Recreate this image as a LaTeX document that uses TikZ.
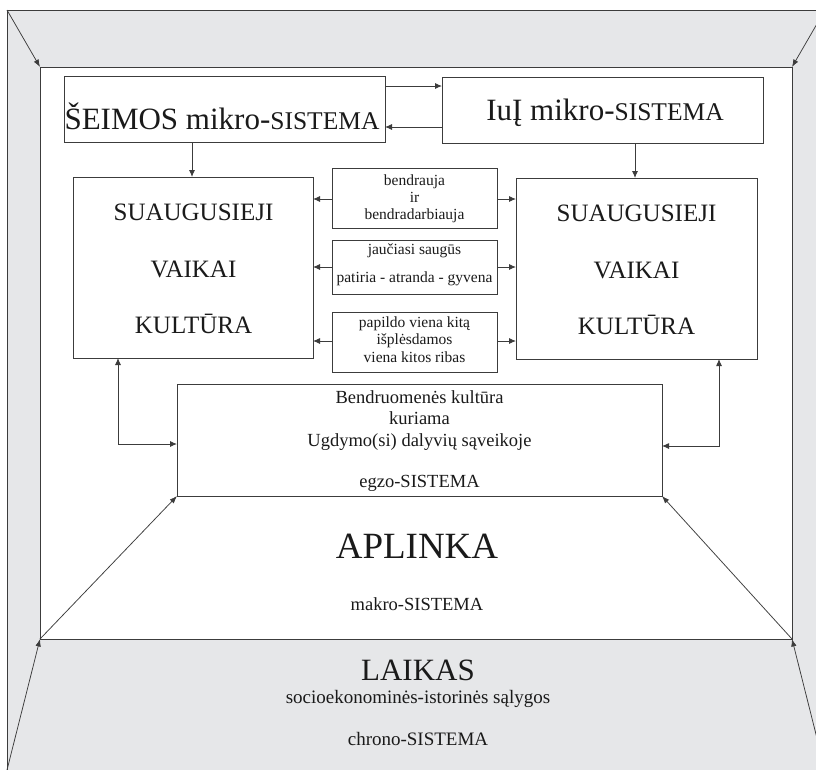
\documentclass[tikz,border=0pt]{standalone}
\usepackage{fontspec}
\setmainfont{Liberation Serif}
\usetikzlibrary{arrows.meta}
\definecolor{bandgray}{HTML}{E6E7E9}
\definecolor{linegray}{HTML}{3C3C3C}
\definecolor{inkcol}{HTML}{1A1A1A}
\begin{document}
\begin{tikzpicture}[x=1pt,y=-1pt,
  box/.style={draw=linegray, line width=1pt, fill=white, inner sep=0pt, outer sep=0pt, anchor=north west},
  arr/.style={draw=linegray, line width=0.9pt, -{Latex[length=7pt,width=6pt]}},
  darr/.style={draw=linegray, line width=0.9pt, {Latex[length=7pt,width=6pt]}-{Latex[length=7pt,width=6pt]}},
  thin/.style={draw=linegray, line width=0.75pt, -{Latex[length=7.5pt,width=5.5pt]}},
  txt/.style={inner sep=0pt, anchor=base, text=inkcol},
  big/.style={txt, font=\fontsize{31}{31}\selectfont},
  mid/.style={txt, font=\fontsize{25}{25}\selectfont},
  small/.style={txt, font=\fontsize{15.5}{15.5}\selectfont},
  med/.style={txt, font=\fontsize{18.5}{18.5}\selectfont}]
\useasboundingbox (0,0) rectangle (816,769);
\begin{scope}
  \clip (0,0) rectangle (816,769);
  \fill[bandgray] (7,10) rectangle (825,790);
  \draw[linegray, line width=1pt] (7,790) -- (7,10) -- (825,10);
  \node[box, minimum width=752pt, minimum height=572pt] (inner) at (40,67) {};
  \coordinate (otl) at (7,10);
  \coordinate (otr) at (825,10);
  \coordinate (obl) at (7,770);
  \coordinate (obr) at (825,770);
  \draw[thin] (otl) -- (inner.north west);
  \draw[thin] (otr) -- (inner.north east);
  \draw[thin] (obl) -- (inner.south west);
  \draw[thin] (obr) -- (inner.south east);
\end{scope}

% top boxes
\node[box, minimum width=321pt, minimum height=66pt] (seimos) at (64,76) {};
\node[box, minimum width=321pt, minimum height=66pt] (iuj) at (442,77) {};
\node[big] (tseimos) at (222,129) {ŠEIMOS mikro-{\fontsize{25.5}{25.5}\selectfont SISTEMA}};
\node[big] (tiuj) at (605,120) {IuĮ mikro-{\fontsize{25.5}{25.5}\selectfont SISTEMA}};

% big boxes
\node[box, minimum width=240pt, minimum height=181pt] (lbox) at (73,177) {};
\node[box, minimum width=241pt, minimum height=181pt] (rbox) at (516,178) {};
\node[mid] (l1) at (193.5,220) {SUAUGUSIEJI};
\node[mid] (l2) at (193.5,277) {VAIKAI};
\node[mid] (l3) at (193.5,333) {KULTŪRA};
\node[mid] (r1) at (636.5,221) {SUAUGUSIEJI};
\node[mid] (r2) at (636.5,278) {VAIKAI};
\node[mid] (r3) at (636.5,334) {KULTŪRA};

% middle boxes
\node[box, minimum width=165pt, minimum height=60pt] (m1) at (332,168) {};
\node[box, minimum width=165pt, minimum height=54pt] (m2) at (332,240) {};
\node[box, minimum width=165pt, minimum height=60pt] (m3) at (332,312) {};
\node[small] (m1a) at (414.5,185) {bendrauja};
\node[small] (m1b) at (414.5,202) {ir};
\node[small] (m1c) at (414.5,219) {bendradarbiauja};
\node[small] (m2a) at (414.5,254) {jaučiasi saugūs};
\node[small] (m2b) at (414.5,282) {patiria - atranda - gyvena};
\node[small] (m3a) at (414.5,327) {papildo viena kitą};
\node[small] (m3b) at (414.5,344.5) {išplėsdamos};
\node[small] (m3c) at (414.5,362) {viena kitos ribas};

% community box
\node[box, minimum width=485pt, minimum height=112pt] (bend) at (177,384) {};
\node[med] (b1) at (419.5,403) {Bendruomenės kultūra};
\node[med] (b2) at (419.5,424.5) {kuriama};
\node[med] (b3) at (419.5,446) {Ugdymo(si) dalyvių sąveikoje};
\node[med] (b4) at (419.5,487) {egzo-SISTEMA};

% environment texts
\node[txt, font=\fontsize{37}{37}\selectfont] (aplinka) at (417,558) {APLINKA};
\node[med] (makro) at (417,610) {makro-SISTEMA};
\node[txt, font=\fontsize{31}{31}\selectfont] (laikas) at (418,680) {LAIKAS};
\node[txt, font=\fontsize{19}{19}\selectfont] (socio) at (418,703) {socioekonominės-istorinės sąlygos};
\node[txt, font=\fontsize{19}{19}\selectfont] (chrono) at (418,745) {chrono-SISTEMA};

% connectors
\draw[arr] (seimos.east |- 0,86) -- (iuj.west |- 0,86);
\draw[arr] (iuj.west |- 0,127) -- (seimos.east |- 0,127);
\draw[arr] (seimos.south -| 192,0) -- (lbox.north -| 192,0);
\draw[arr] (iuj.south -| 635,0) -- (rbox.north -| 635,0);

\draw[arr] (m1.west |- 0,199) -- (lbox.east |- 0,199);
\draw[arr] (m2.west |- 0,267) -- (lbox.east |- 0,267);
\draw[arr] (m3.west |- 0,341) -- (lbox.east |- 0,341);
\draw[arr] (m1.east |- 0,199) -- (rbox.west |- 0,199);
\draw[arr] (m2.east |- 0,267) -- (rbox.west |- 0,267);
\draw[arr] (m3.east |- 0,341) -- (rbox.west |- 0,341);

\draw[darr] (lbox.south -| 118,0) -- (118,444) -- (bend.west |- 0,444);
\draw[darr] (rbox.south -| 719,0) -- (719,446) -- (bend.east |- 0,446);

\draw[thin] (inner.south west) -- (bend.south west);
\draw[thin] (inner.south east) -- (bend.south east);
\end{tikzpicture}
\end{document}
